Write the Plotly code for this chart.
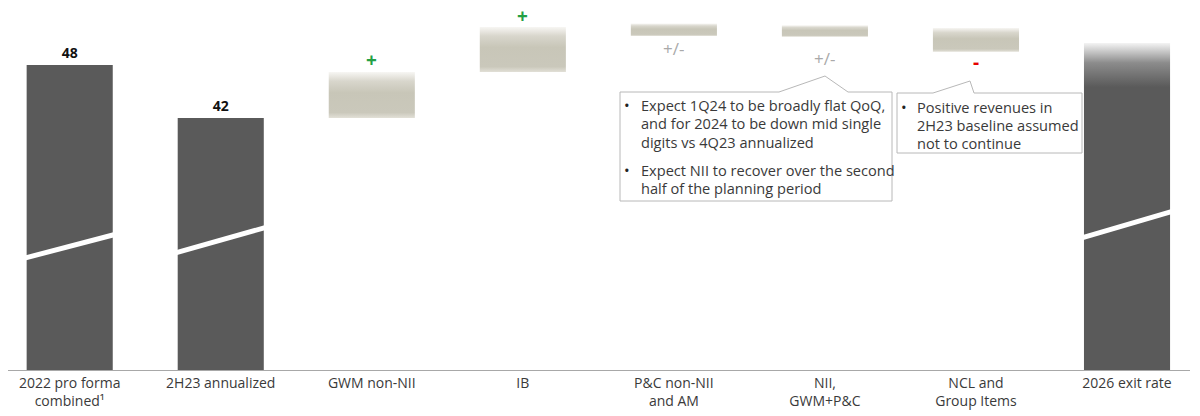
import plotly.graph_objects as go

# Categories along the x axis
categories = [
    "2022 pro forma<br>combined¹",
    "2H23 annualized",
    "GWM non-NII",
    "IB",
    "P&C non-NII<br>and AM",
    "NII,<br>GWM+P&C",
    "NCL and<br>Group Items",
    "2026 exit rate",
]

# Totals (dark bars)
total_idx = [0, 1]
total_values = [48, 42]
exit_idx = 7
exit_value = 50.5  # illustrative, unlabeled

# Illustrative walk steps (floating boxes)
step_idx = [2, 3, 4, 5, 6]
step_low = [42.0, 47.2, 51.3, 51.2, 49.5]
step_high = [47.2, 52.3, 52.7, 52.5, 52.2]
step_signs = ["+", "+", "+/-", "+/-", "-"]

# Callout texts
callout_nii = [
    ["Expect 1Q24 to be broadly flat QoQ,", "and for 2024 to be down mid single", "digits vs 4Q23 annualized"],
    ["Expect NII to recover over the second", "half of the planning period"],
]
callout_ncl = [["Positive revenues in", "2H23 baseline assumed", "not to continue"]]

# ---- styling / layout constants ----
FONT = "Open Sans"
DARK = "#5a5a5a"
TXT = "#3a3a3a"
BAR_W = 0.57
X_RANGE = [-0.4085, 7.417]
Y_RANGE = [13.47, 54.23]
# page body has an 8px margin, so the figure is drawn 8px in from the window corner
PAGE_OFF = 8
W, H = 1192, 408
M_L, M_R, M_T, M_B = 0, 10, 2, 46
PLOT_W = W - M_L - M_R
PLOT_H = H - M_T - M_B

SIGN_COLORS = {"+": "#23a045", "+/-": "#a9a9a9", "-": "#e60000"}
SIGN_SHIFT = [12, 11, -12, -21, -10]


# helpers: window pixel -> paper coordinates
def xp(px):
    return (px - PAGE_OFF - M_L) / PLOT_W


def yp(py):
    return (M_T + PLOT_H - (py - PAGE_OFF)) / PLOT_H


fig = go.Figure()

# Dark total bars
fig.add_trace(
    go.Bar(
        x=total_idx,
        y=total_values,
        width=BAR_W,
        marker={"color": DARK, "line": {"width": 0}},
        text=[f"<b>{v}</b>" for v in total_values],
        textposition="outside",
        textfont={"size": 14, "color": "#111111", "family": FONT},
        cliponaxis=False,
        hoverinfo="skip",
    )
)

# Exit-rate bar with faded top
hw = BAR_W / 2
fig.add_trace(
    go.Scatter(
        x=[exit_idx - hw, exit_idx + hw, exit_idx + hw, exit_idx - hw, exit_idx - hw],
        y=[0, 0, exit_value, exit_value, 0],
        mode="lines",
        line={"width": 0},
        fill="toself",
        fillgradient={
            "type": "vertical",
            "start": exit_value - 5.0,
            "stop": exit_value,
            "colorscale": [[0, DARK], [0.55, "#8c8c8c"], [1, "#f4f4f4"]],
        },
        hoverinfo="skip",
    )
)

# Floating step boxes with soft gradient
for i, lo, hi in zip(step_idx, step_low, step_high):
    fig.add_trace(
        go.Scatter(
            x=[i - hw, i + hw, i + hw, i - hw, i - hw],
            y=[lo, lo, hi, hi, lo],
            mode="lines",
            line={"width": 0},
            fill="toself",
            fillgradient={
                "type": "vertical",
                "start": lo,
                "stop": hi,
                "colorscale": [
                    [0, "#e2e0d7"],
                    [0.12, "#cac8bb"],
                    [0.55, "#c8c6b8"],
                    [0.8, "#d8d6cc"],
                    [1, "#f7f6f3"],
                ],
            },
            hoverinfo="skip",
        )
    )

# Sign markers around the steps
for k, (i, lo, hi, s) in enumerate(zip(step_idx, step_low, step_high, step_signs)):
    up = SIGN_SHIFT[k] > 0
    fig.add_annotation(
        x=i,
        y=hi if up else lo,
        text=f"<b>{s}</b>" if s != "+/-" else s,
        showarrow=False,
        yshift=SIGN_SHIFT[k],
        yanchor="middle",
        height=14,
        valign="middle",
        font={"size": 19 if s != "+/-" else 17, "color": SIGN_COLORS[s], "family": FONT},
    )

# Axis break marks (white diagonal bands)
breaks = {0: (26.2, 28.75), 1: (26.8, 29.55), 7: (28.5, 31.35)}
for i, (y0, y1) in breaks.items():
    ext = 0.02
    slope = (y1 - y0) / BAR_W
    fig.add_shape(
        type="line",
        x0=i - hw - ext,
        x1=i + hw + ext,
        y0=y0 - slope * ext,
        y1=y1 + slope * ext,
        xref="x",
        yref="y",
        line={"color": "white", "width": 5},
    )


def callout(box, notch, bullets, bullet_x, text_x, line_ys):
    x0, y0, x1, y1 = box
    nl, (ax, ay), nr = notch
    path = (
        f"M {xp(x0)},{yp(y0)} L {xp(nl)},{yp(y0)} L {xp(ax)},{yp(ay)} L {xp(nr)},{yp(y0)} "
        f"L {xp(x1)},{yp(y0)} L {xp(x1)},{yp(y1)} L {xp(x0)},{yp(y1)} Z"
    )
    fig.add_shape(
        type="path",
        path=path,
        xref="paper",
        yref="paper",
        fillcolor="white",
        line={"color": "#b8b8b8", "width": 1},
    )
    n = 0
    for lines in bullets:
        for j, line in enumerate(lines):
            if j == 0:
                fig.add_annotation(
                    x=xp(bullet_x), y=yp(line_ys[n]), xref="paper", yref="paper",
                    text="•", showarrow=False, xanchor="left", yanchor="middle",
                    font={"size": 15, "color": "#222222", "family": FONT},
                )
            fig.add_annotation(
                x=xp(text_x), y=yp(line_ys[n]), xref="paper", yref="paper",
                text=line, showarrow=False, xanchor="left", yanchor="middle",
                font={"size": 14.6, "color": TXT, "family": FONT},
            )
            n += 1


callout((620, 92, 892, 201), (779, (825, 76), 848), callout_nii, 622, 639, [105, 123, 142, 170, 188])
callout((897, 93, 1082, 153), (933, (970, 81), 974), callout_ncl, 899, 915, [107, 125, 143])

fig.update_layout(
    width=W,
    height=H,
    margin={"l": M_L, "r": M_R, "t": M_T, "b": M_B},
    plot_bgcolor="white",
    paper_bgcolor="white",
    showlegend=False,
    font={"family": FONT, "color": TXT},
    xaxis={
        "range": X_RANGE,
        "tickvals": list(range(len(categories))),
        "ticktext": categories,
        "showgrid": False,
        "zeroline": False,
        "showline": True,
        "linecolor": "#a8a8a8",
        "linewidth": 1,
        "ticks": "",
        "tickfont": {"size": 14, "color": TXT, "family": FONT},
        "fixedrange": True,
    },
    yaxis={
        "range": Y_RANGE,
        "visible": False,
        "showgrid": False,
        "zeroline": False,
        "fixedrange": True,
    },
)

fig.write_html("out.html")
